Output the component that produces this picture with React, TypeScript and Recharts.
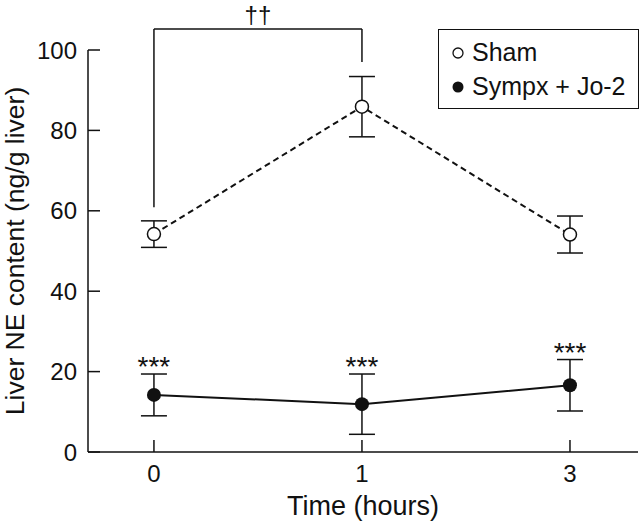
import React from "react";
import {
  LineChart,
  Line,
  XAxis,
  YAxis,
  ErrorBar,
  LabelList,
  ReferenceLine,
} from "recharts";

const timeLabels = ["0", "1", "3"];
const shamValues = [54.2, 85.9, 54.1];
const shamErrors = [3.3, 7.5, 4.6];
const sympxValues = [14.2, 11.9, 16.6];
const sympxErrors = [5.2, 7.5, 6.4];
const yTicks = [0, 20, 40, 60, 80, 100];
const seriesNames = ["Sham", "Sympx + Jo-2"];

// significance bracket between 0 h and 1 h (data units)
const bracketTop = 105.2;
const bracketLeftBottom = 60.9;
const bracketRightBottom = 97;

const font = '"Liberation Sans", Arial, sans-serif';
const ink = "#111";

const data = timeLabels.map((t, i) => ({
  idx: i,
  sham: shamValues[i],
  shamErr: shamErrors[i],
  sympx: sympxValues[i],
  sympxErr: sympxErrors[i],
  starAt: sympxValues[i] + sympxErrors[i],
}));

const LegendBox = () => (
  <div
    style={{
      position: "absolute",
      left: 438,
      top: 29,
      width: 201,
      height: 80,
      border: `1.5px solid ${ink}`,
      boxSizing: "border-box",
      fontFamily: font,
      fontSize: 25,
      color: ink,
      background: "#fff",
    }}
  >
    <svg width={20} height={80} style={{ position: "absolute", left: 8, top: 0 }}>
      <circle cx={11} cy={23} r={5} fill="#fff" stroke={ink} strokeWidth={1.3} />
      <circle cx={11} cy={57} r={5.5} fill={ink} />
    </svg>
    <div style={{ position: "absolute", left: 33, top: 8, lineHeight: "28px" }}>{seriesNames[0]}</div>
    <div style={{ position: "absolute", left: 33, top: 42, lineHeight: "28px" }}>{seriesNames[1]}</div>
  </div>
);

const Stars = (props: any) => (
  <text
    x={props.x}
    y={props.y + 2}
    textAnchor="middle"
    fontSize={28}
    fontFamily={font}
    fill={ink}
  >
    ***
  </text>
);

export default function App() {
  return (
    <div style={{ position: "absolute", left: 0, top: 0, width: 640, height: 524, background: "#fff" }}>
      <LineChart
        width={640}
        height={524}
        data={data}
        margin={{ top: 50, right: 2, left: 0, bottom: 0 }}
      >
        <XAxis
          dataKey="idx"
          type="number"
          domain={[-0.317, 2.327]}
          ticks={[0, 1, 2]}
          tickFormatter={(v: number) => timeLabels[v]}
          allowDataOverflow
          height={72}
          tickSize={-12}
          tickMargin={25}
          stroke={ink}
          strokeWidth={1.5}
          tick={{ fontSize: 24, fill: ink, fontFamily: font }}
          label={{
            value: "Time (hours)",
            position: "insideBottom",
            offset: 9,
            fontSize: 27,
            fill: ink,
            fontFamily: font,
          }}
        />
        <YAxis
          domain={[0, 100]}
          ticks={yTicks}
          width={88}
          tickSize={-12}
          tickMargin={23}
          stroke={ink}
          strokeWidth={1.5}
          tick={{ fontSize: 24, fill: ink, fontFamily: font }}
          label={{
            value: "Liver NE content (ng/g liver)",
            angle: -90,
            position: "insideLeft",
            offset: 15,
            fontSize: 26.5,
            fill: ink,
            fontFamily: font,
            style: { textAnchor: "middle" },
          }}
        />
        <ReferenceLine
          segment={[{ x: 0, y: bracketTop }, { x: 1, y: bracketTop }]}
          ifOverflow="visible"
          stroke={ink}
          strokeWidth={1.5}
          label={{ value: "††", position: "top", offset: 6, fontSize: 24, fill: ink, fontFamily: font }}
        />
        <ReferenceLine
          segment={[{ x: 0, y: bracketLeftBottom }, { x: 0, y: bracketTop }]}
          ifOverflow="visible"
          stroke={ink}
          strokeWidth={1.5}
        />
        <ReferenceLine
          segment={[{ x: 1, y: bracketRightBottom }, { x: 1, y: bracketTop }]}
          ifOverflow="visible"
          stroke={ink}
          strokeWidth={1.5}
        />
        <Line
          dataKey="sham"
          name={seriesNames[0]}
          stroke={ink}
          strokeWidth={2}
          strokeDasharray="6 4"
          isAnimationActive={false}
          dot={{ r: 6.5, fill: "#fff", stroke: ink, strokeWidth: 1.5, strokeDasharray: "0" }}
          activeDot={false}
        >
          <ErrorBar dataKey="shamErr" width={13} stroke={ink} strokeWidth={1.5} direction="y" />
        </Line>
        <Line
          dataKey="sympx"
          name={seriesNames[1]}
          stroke={ink}
          strokeWidth={2}
          isAnimationActive={false}
          dot={{ r: 7, fill: ink, stroke: ink, strokeWidth: 0 }}
          activeDot={false}
        >
          <ErrorBar dataKey="sympxErr" width={13} stroke={ink} strokeWidth={1.5} direction="y" />
        </Line>
        <Line
          dataKey="starAt"
          stroke="none"
          isAnimationActive={false}
          dot={false}
          activeDot={false}
          legendType="none"
        >
          <LabelList dataKey="starAt" content={<Stars />} />
        </Line>
      </LineChart>
      <LegendBox />
    </div>
  );
}
